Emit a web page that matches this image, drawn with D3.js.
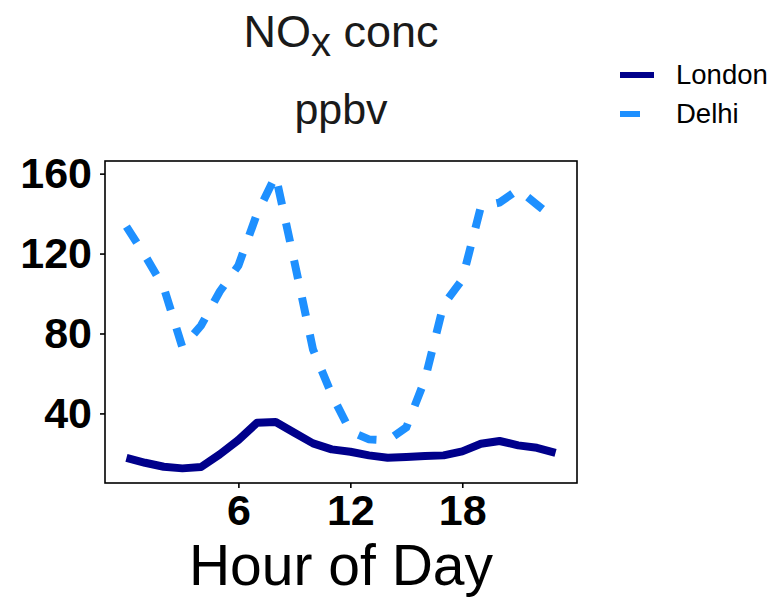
<!DOCTYPE html>
<html>
<head>
<meta charset="utf-8">
<script src="https://cdn.jsdelivr.net/npm/d3@7"></script>
<style>
  body { margin: 0; background: #fff; }
  text { font-family: "Liberation Sans", Arial, sans-serif; }
</style>
</head>
<body>
<div id="chart"></div>
<script>
// hours 0..23
var hours = d3.range(0, 24);
var london = [17.8, 15.3, 13.3, 12.5, 13.2, 19.5, 26.7, 35.3, 35.7, 30.3, 25, 22,
              20.8, 19, 17.8, 18.2, 18.7, 19, 21, 24.8, 26.2, 24, 22.8, 20.3];
var delhi = [133.5, 119, 103, 73, 84, 101, 114, 140, 159, 116, 72, 49.5,
             31, 27, 26.5, 33, 57, 94.5, 107, 143.5, 145.5, 152, 144.5, 137];
var seriesNames = ["London", "Delhi"];
var yTicks = [40, 80, 120, 160];
var xTicks = [6, 12, 18];

var width = 768, height = 599;
var panel = {left: 105, right: 577, top: 161, bottom: 483};

var svg = d3.select("#chart").append("svg")
    .attr("width", width)
    .attr("height", height);

// ggplot-like 5% expansion
var xMin = d3.min(hours), xMax = d3.max(hours);
var xPad = (xMax - xMin) * 0.05;
var x = d3.scaleLinear()
    .domain([xMin - xPad, xMax + xPad])
    .range([panel.left, panel.right]);

var allVals = london.concat(delhi);
var yMin = d3.min(allVals), yMax = d3.max(allVals);
var yPad = (yMax - yMin) * 0.05;
var y = d3.scaleLinear()
    .domain([yMin - yPad, yMax + yPad])
    .range([panel.bottom, panel.top]);

var line = d3.line()
    .x(function(d, i){ return x(hours[i]); })
    .y(function(d){ return y(d); });

svg.append("path")
    .datum(delhi)
    .attr("d", line)
    .attr("fill", "none")
    .attr("stroke", "#1E90FF")
    .attr("stroke-width", 8)
    .attr("stroke-dasharray", "19,19");

svg.append("path")
    .datum(london)
    .attr("d", line)
    .attr("fill", "none")
    .attr("stroke", "#00008B")
    .attr("stroke-width", 8)
    .attr("stroke-linejoin", "round");

// panel border
svg.append("rect")
    .attr("x", panel.left)
    .attr("y", panel.top)
    .attr("width", panel.right - panel.left)
    .attr("height", panel.bottom - panel.top)
    .attr("fill", "none")
    .attr("stroke", "#000")
    .attr("stroke-width", 1.6);

// axes
var yAxis = svg.append("g")
    .attr("transform", "translate(" + panel.left + ",0)")
    .call(d3.axisLeft(y).tickValues(yTicks).tickSize(5).tickPadding(8));
yAxis.select(".domain").remove();
yAxis.selectAll(".tick line").attr("stroke", "#000").attr("stroke-width", 1.6);
yAxis.selectAll(".tick text")
    .attr("fill", "#000")
    .style("font-family", "'Liberation Sans', Arial, sans-serif")
    .style("font-weight", "bold")
    .style("font-size", "43px");

var xAxis = svg.append("g")
    .attr("transform", "translate(0," + panel.bottom + ")")
    .call(d3.axisBottom(x).tickValues(xTicks).tickSize(5).tickPadding(6));
xAxis.select(".domain").remove();
xAxis.selectAll(".tick line").attr("stroke", "#000").attr("stroke-width", 1.6);
xAxis.selectAll(".tick text")
    .attr("fill", "#000")
    .style("font-family", "'Liberation Sans', Arial, sans-serif")
    .style("font-weight", "bold")
    .style("font-size", "43px");

var cx = (panel.left + panel.right) / 2;

// axis title
svg.append("text")
    .attr("x", cx)
    .attr("y", 585)
    .attr("text-anchor", "middle")
    .style("font-size", "57px")
    .attr("fill", "#000")
    .text("Hour of Day");

// title
var t1 = svg.append("text")
    .attr("x", cx)
    .attr("y", 47)
    .attr("text-anchor", "middle")
    .style("font-size", "45px")
    .attr("fill", "#1a1a1a");
t1.append("tspan").text("NO");
t1.append("tspan").attr("dy", 9).style("font-size", "40px").text("x");
t1.append("tspan").attr("dy", -9).text(" conc");

svg.append("text")
    .attr("x", cx)
    .attr("y", 124)
    .attr("text-anchor", "middle")
    .style("font-size", "43px")
    .attr("fill", "#1a1a1a")
    .text("ppbv");

// legend
var legend = svg.append("g");
var keys = [
  {name: seriesNames[0], color: "#00008B", dash: null, y: 75},
  {name: seriesNames[1], color: "#1E90FF", dash: "20,20", y: 114}
];
keys.forEach(function(k){
  legend.append("line")
      .attr("x1", 620).attr("x2", 654)
      .attr("y1", k.y).attr("y2", k.y)
      .attr("stroke", k.color)
      .attr("stroke-width", 6)
      .attr("stroke-dasharray", k.dash);
  legend.append("text")
      .attr("x", 676)
      .attr("y", k.y + 9)
      .style("font-size", "27.5px")
      .attr("fill", "#000")
      .text(k.name);
});
</script>
</body>
</html>
